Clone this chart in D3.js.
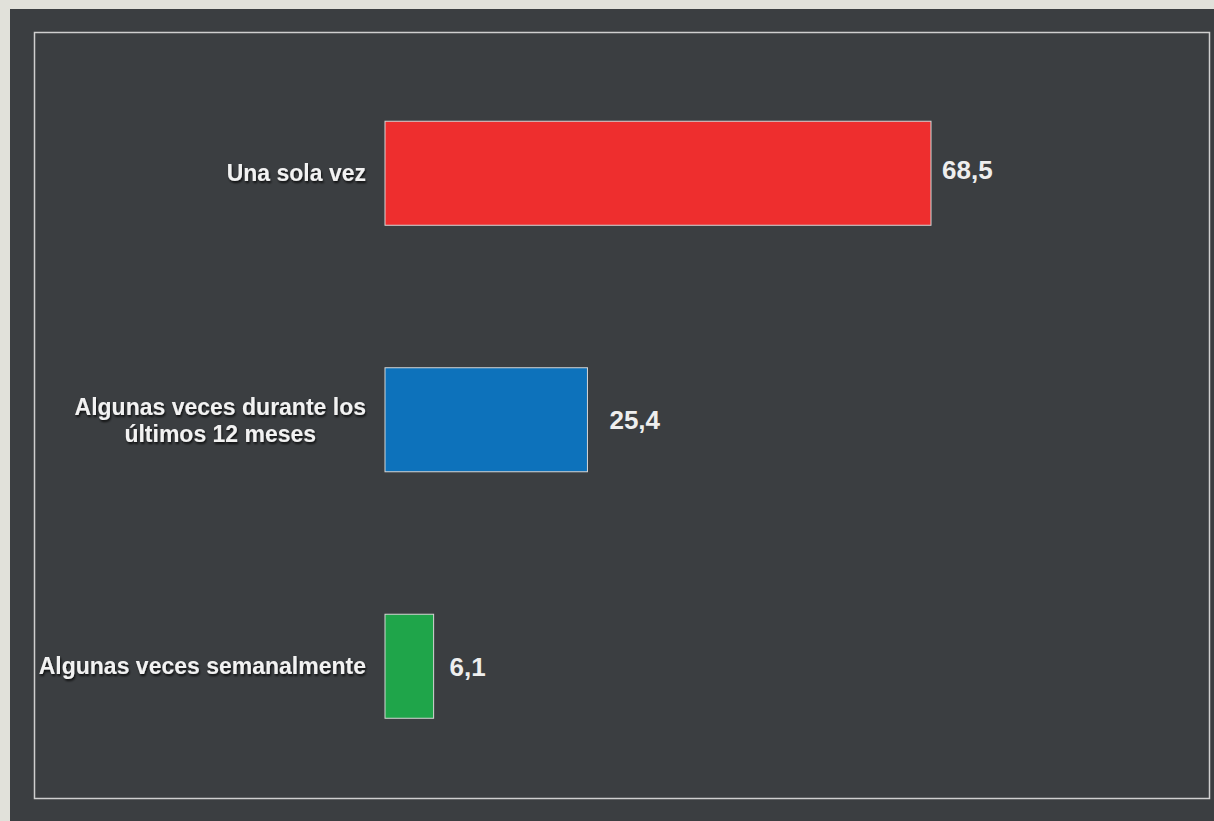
<!DOCTYPE html>
<html>
<head>
<meta charset="utf-8">
<script src="https://cdn.jsdelivr.net/npm/d3@7"></script>
<style>
  html, body { margin: 0; padding: 0; background: #e1e1da; }
  svg { display: block; }
</style>
</head>
<body>
<svg id="chart" width="1214" height="821"></svg>
<script>
// ---- data ----
const categories = ["Una sola vez", "Algunas veces durante los\núltimos 12 meses", "Algunas veces semanalmente"];
const values = [68.5, 25.4, 6.1];
const valueLabels = ["68,5", "25,4", "6,1"];
const barColors = ["#ee2e2e", "#0d72bb", "#1fa54a"];
const labelGap = [11, 22, 16];

const W = 1214, H = 821;
const svg = d3.select("#chart");

const defs = svg.append("defs");
const f = defs.append("filter").attr("id", "shadow").attr("x", "-10%").attr("y", "-30%").attr("width", "120%").attr("height", "160%");
f.append("feDropShadow").attr("dx", 1).attr("dy", 2).attr("stdDeviation", 1.2).attr("flood-color", "#000").attr("flood-opacity", 0.75);

// panel
svg.append("rect").attr("x", 10).attr("y", 9).attr("width", W - 10).attr("height", H - 9).attr("fill", "#3b3e41");
// frame
svg.append("rect").attr("x", 34.5).attr("y", 32.5).attr("width", 1175).attr("height", 766)
  .attr("fill", "none").attr("stroke", "#cfcfcf").attr("stroke-width", 1.5);

const x = d3.scaleLinear().domain([0, 68.5]).range([385, 931]);
const y = d3.scaleBand().domain(categories).range([50, 789.5]).paddingInner(0.578).paddingOuter(0.289);

const g = svg.append("g");
g.selectAll("rect.bar").data(categories).join("rect")
  .attr("class", "bar")
  .attr("x", x(0))
  .attr("y", d => y(d))
  .attr("width", (d, i) => x(values[i]) - x(0))
  .attr("height", y.bandwidth())
  .attr("fill", (d, i) => barColors[i])
  .attr("stroke", "#d6d6d6").attr("stroke-width", 1);

// value labels
g.selectAll("text.val").data(categories).join("text")
  .attr("class", "val")
  .attr("x", (d, i) => x(values[i]) + labelGap[i])
  .attr("y", (d, i) => y(d) + y.bandwidth() / 2 + (i === 0 ? -4 : 0))
  .attr("dy", "0.36em")
  .attr("font-family", "Liberation Sans, Arial, sans-serif")
  .attr("font-weight", "bold")
  .attr("font-size", 26)
  .attr("fill", "#eeeeee")
  .text((d, i) => valueLabels[i]);

// category labels
const labelRight = 366;
categories.forEach((c, i) => {
  const lines = c.split("\n");
  const cy = y(c) + y.bandwidth() / 2;
  const t = g.append("text")
    .attr("font-family", "Liberation Sans, Arial, sans-serif")
    .attr("font-weight", "bold")
    .attr("font-size", 23)
    .attr("fill", "#f2f2f2")
    .attr("filter", "url(#shadow)");
  if (lines.length === 1) {
    t.attr("x", labelRight).attr("y", cy - 1).attr("dy", "0.36em").attr("text-anchor", "end").text(c);
  } else {
    const lh = 27;
    lines.forEach((ln, k) => {
      t.append("tspan").attr("x", 0).attr("y", cy + (k - (lines.length - 1) / 2) * lh).attr("dy", "0.36em").text(ln);
    });
    // center lines under the widest one, right aligned at labelRight
    const tsp = t.selectAll("tspan").nodes();
    const maxW = d3.max(tsp, n => n.getComputedTextLength());
    const cx = labelRight - maxW / 2;
    t.attr("text-anchor", "middle");
    t.selectAll("tspan").attr("x", cx);
  }
});
</script>
</body>
</html>
